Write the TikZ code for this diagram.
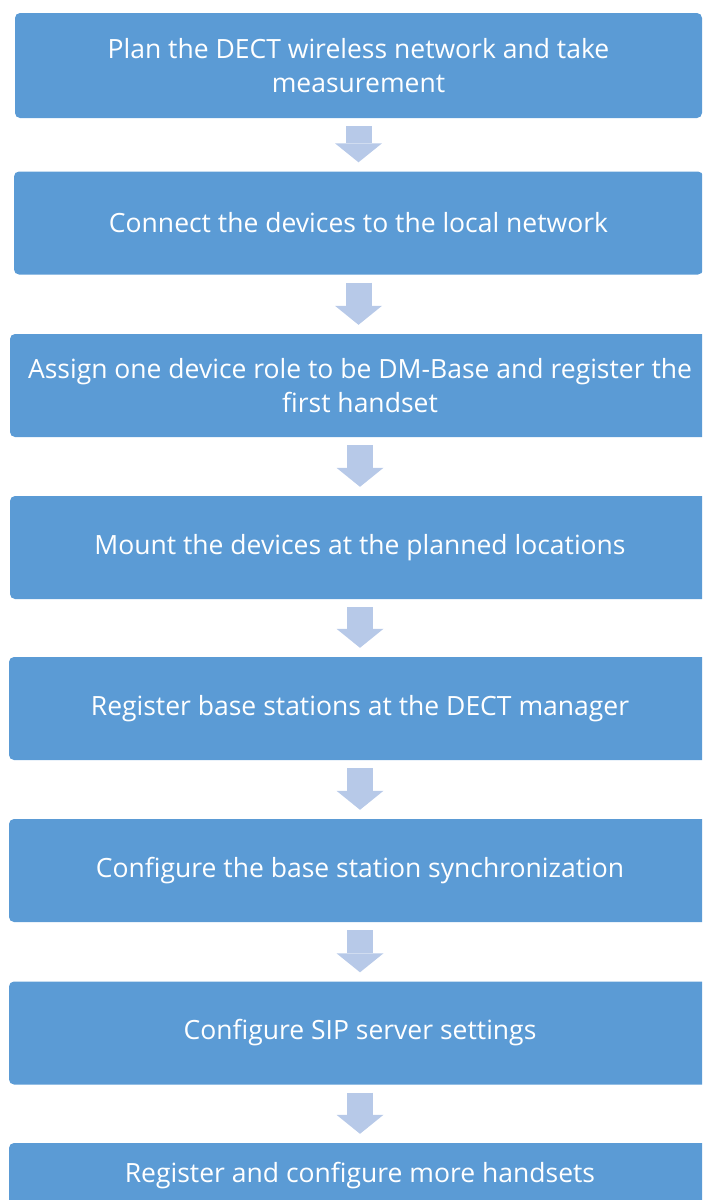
\documentclass[tikz,border=0pt]{standalone}
\usepackage{fontspec}
\setmainfont{Open Sans}
\usetikzlibrary{arrows.meta}
\definecolor{boxblue}{RGB}{91,155,213}
\definecolor{arrowblue}{RGB}{183,201,232}

\begin{document}
\begin{tikzpicture}[x=1pt, y=-1pt,
  stepbox/.style={fill=boxblue, rounded corners=5pt, text=white, align=center,
    inner sep=0pt, minimum height=103pt, font=\fontsize{26.5}{34}\selectfont},
  flowarrow/.style={arrowblue, line width=26pt,
    -{Triangle[width=47pt, length=19pt, line width=0pt]},
    shorten <=8pt, shorten >=9pt}]
\useasboundingbox (0,0) rectangle (702,1200);
\clip (0,0) rectangle (702,1200);

\node[stepbox, minimum width=687pt, minimum height=105pt] (plan) at (358.5,65.5)
  {Plan the DECT wireless network and take\\measurement};
\node[stepbox, minimum width=689pt] (connect) at (358.5,223)
  {Connect the devices to the local network};
\node[stepbox, minimum width=700pt] (assign) at (360,385.5)
  {Assign one device role to be DM-Base and register the\\first handset};
\node[stepbox, minimum width=700pt] (mount) at (360,547.5)
  {Mount the devices at the planned locations};
\node[stepbox, minimum width=702pt] (basereg) at (360,708.5)
  {Register base stations at the DECT manager};
\node[stepbox, minimum width=702pt] (sync) at (360,870.5)
  {Configure the base station synchronization};
\node[stepbox, minimum width=702pt] (sip) at (360,1033)
  {Configure SIP server settings};
\node[stepbox, minimum width=702pt, minimum height=66pt] (handsets) at (360,1176)
  {Register and configure more handsets};

\draw[flowarrow] (plan.south) -- (plan.south |- connect.north);
\draw[flowarrow] (connect.south) -- (connect.south |- assign.north);
\draw[flowarrow] (assign.south) -- (mount.north);
\draw[flowarrow] (mount.south) -- (basereg.north);
\draw[flowarrow] (basereg.south) -- (sync.north);
\draw[flowarrow] (sync.south) -- (sip.north);
\draw[flowarrow] (sip.south) -- (handsets.north);
\end{tikzpicture}
\end{document}
